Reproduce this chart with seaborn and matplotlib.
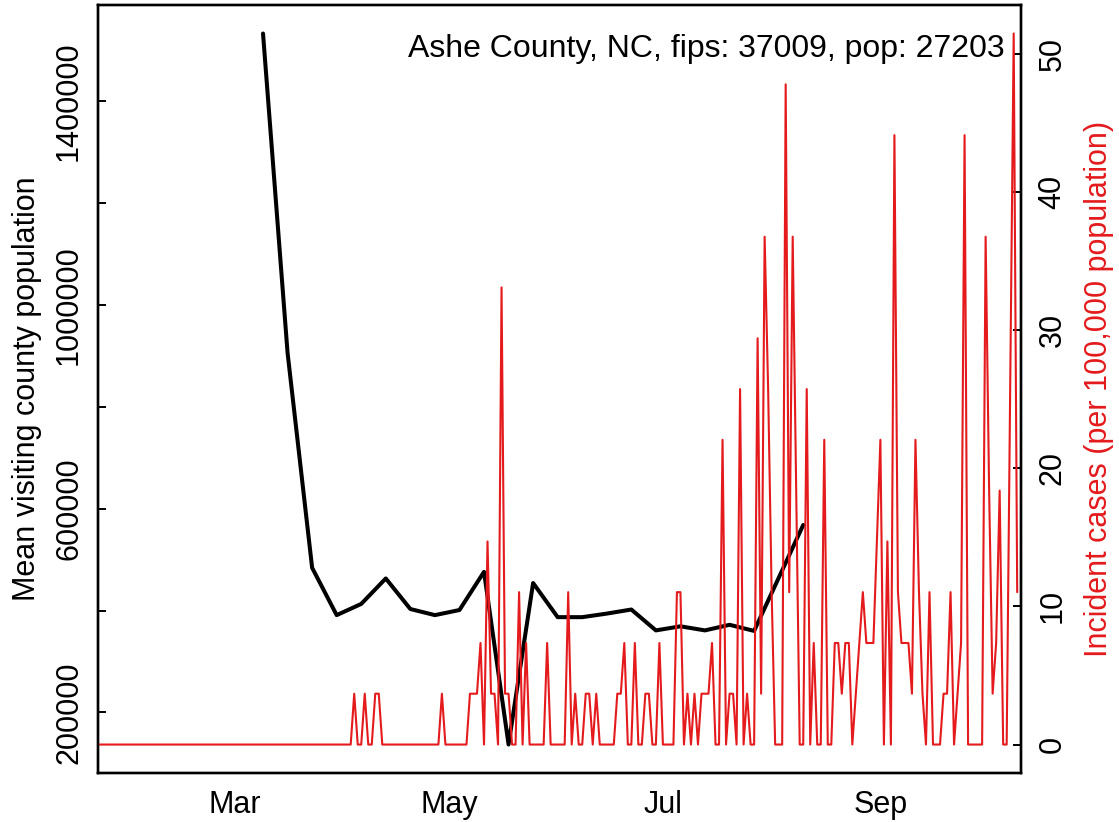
import numpy as np
import pandas as pd
import matplotlib
matplotlib.use("Agg")
import matplotlib.pyplot as plt
import matplotlib.dates as mdates
import seaborn as sns

# ---------------- data ----------------
title_text = "Ashe County, NC, fips: 37009, pop: 27203"

# weekly mean visiting county population (left axis, black)
visit_dates = ["2020-03-09", "2020-03-16", "2020-03-23", "2020-03-30", "2020-04-06",
               "2020-04-13", "2020-04-20", "2020-04-27", "2020-05-04", "2020-05-11",
               "2020-05-18", "2020-05-25", "2020-06-01", "2020-06-08", "2020-06-15",
               "2020-06-22", "2020-06-29", "2020-07-06", "2020-07-13", "2020-07-20",
               "2020-07-27", "2020-08-03", "2020-08-10"]
visit_pop = [1533000, 906000, 484000, 391000, 413000,
             463000, 403000, 391000, 401000, 476000,
             137000, 454000, 387000, 387000, 394000,
             402000, 361000, 369000, 361000, 372000,
             360000, 464000, 568000]

# daily incident cases per 100,000 population (right axis, red), from 2020-01-22
case_start = "2020-01-22"
incident_rate = [
    0, 0, 0, 0, 0, 0, 0, 0, 0, 0,
    0, 0, 0, 0, 0, 0, 0, 0, 0, 0,
    0, 0, 0, 0, 0, 0, 0, 0, 0, 0,
    0, 0, 0, 0, 0, 0, 0, 0, 0, 0,
    0, 0, 0, 0, 0, 0, 0, 0, 0, 0,
    0, 0, 0, 0, 0, 0, 0, 0, 0, 0,
    0, 0, 0, 0, 0, 0, 0, 0, 0, 0,
    0, 0, 0, 3.68, 0, 0, 3.68, 0, 0, 3.68,
    3.68, 0, 0, 0, 0, 0, 0, 0, 0, 0,
    0, 0, 0, 0, 0, 0, 0, 0, 3.68, 0,
    0, 0, 0, 0, 0, 0, 3.68, 3.68, 3.68, 7.35,
    0, 14.70, 3.68, 3.68, 0, 33.09, 3.68, 3.68, 0, 0,
    11.03, 0, 7.35, 0, 0, 0, 0, 0, 7.35, 0,
    0, 0, 0, 0, 11.03, 0, 3.68, 0, 0, 3.68,
    3.68, 0, 3.68, 0, 0, 0, 0, 0, 3.68, 3.68,
    7.35, 0, 0, 7.35, 0, 0, 3.68, 3.68, 0, 0,
    7.35, 0, 0, 0, 0, 11.03, 11.03, 0, 3.68, 0,
    3.68, 0, 3.68, 3.68, 3.68, 7.35, 0, 0, 22.06, 0,
    3.68, 3.68, 0, 25.73, 0, 3.68, 0, 0, 29.41, 3.68,
    36.76, 25.73, 11.03, 0, 0, 0, 47.79, 11.03, 36.76, 18.38,
    0, 0, 25.73, 0, 7.35, 0, 0, 22.06, 0, 0,
    7.35, 7.35, 3.68, 7.35, 7.35, 0, 3.68, 7.35, 11.03, 7.35,
    7.35, 7.35, 14.70, 22.06, 0, 14.70, 0, 44.11, 11.03, 7.35,
    7.35, 7.35, 3.68, 22.06, 11.03, 3.68, 0, 11.03, 0, 0,
    0, 3.68, 3.68, 11.03, 0, 3.68, 7.35, 44.11, 0, 0,
    0, 0, 0, 36.76, 18.38, 3.68, 7.35, 18.38, 0, 0,
    25.73, 51.47, 11.03,
]

left_ticks = [200000, 400000, 600000, 800000, 1000000, 1200000, 1400000]
left_tick_labels = ["200000", "", "600000", "", "1000000", "", "1400000"]
right_ticks = [0, 10, 20, 30, 40, 50]
month_ticks = ["2020-03-01", "2020-05-01", "2020-07-01", "2020-09-01"]
month_labels = ["Mar", "May", "Jul", "Sep"]

left_label = "Mean visiting county population"
right_label = "Incident cases (per 100,000 population)"

# ---------------- frames ----------------
visits = pd.DataFrame({"date": pd.to_datetime(visit_dates), "pop": visit_pop})
cases = pd.DataFrame({"date": pd.date_range(case_start, periods=len(incident_rate), freq="D"),
                      "rate": incident_rate})

# ---------------- style ----------------
sns.set_theme(style="white")
plt.rcParams["font.family"] = ["Liberation Sans", "DejaVu Sans"]
FS = 22
RED = "#E41A1C"

W, H = 1119, 822
fig = plt.figure(figsize=(W / 100, H / 100), dpi=100)
L, R, T, B = 98, 1020.7, 5, 773
ax = fig.add_axes([L / W, 1 - B / H, (R - L) / W, (B - T) / H])
ax2 = ax.twinx()

sns.lineplot(data=visits, x="date", y="pop", ax=ax, color="black", linewidth=2.9)
sns.lineplot(data=cases, x="date", y="rate", ax=ax2, color=RED, linewidth=1.5)

ax.set_xlim(pd.Timestamp("2020-01-21 23:00"), pd.Timestamp("2020-10-11 00:00"))
ax.set_ylim(81000, 1589000)
ax2.set_ylim(-2.06, 53.53)

# x axis
ax.set_xticks(pd.to_datetime(month_ticks))
ax.set_xticklabels(month_labels)
ax.set_xlabel("")

# left axis
ax.set_yticks(left_ticks)
ax.set_yticklabels(left_tick_labels, rotation=90, va="center")
ax.set_ylabel(left_label, fontsize=FS, labelpad=9, color="black")

# right axis
ax2.set_yticks(right_ticks)
ax2.set_yticklabels([str(t) for t in right_ticks], rotation=90, va="center")
ax2.set_ylabel(right_label, fontsize=FS, color=RED, rotation=90, labelpad=12)

for a in (ax, ax2):
    a.tick_params(axis="both", direction="in", length=6, width=1.4,
                  labelsize=FS, colors="black")
    for s in a.spines.values():
        s.set_color("black")
        s.set_linewidth(1.7)
    a.grid(False)
ax.tick_params(axis="y", pad=10)
ax.tick_params(axis="x", pad=12)
ax2.tick_params(axis="y", pad=12)

ax.text(0.983, 0.932, title_text, transform=ax.transAxes, ha="right",
        va="baseline", fontsize=23, color="black")

fig.savefig("out.png", dpi=100)
